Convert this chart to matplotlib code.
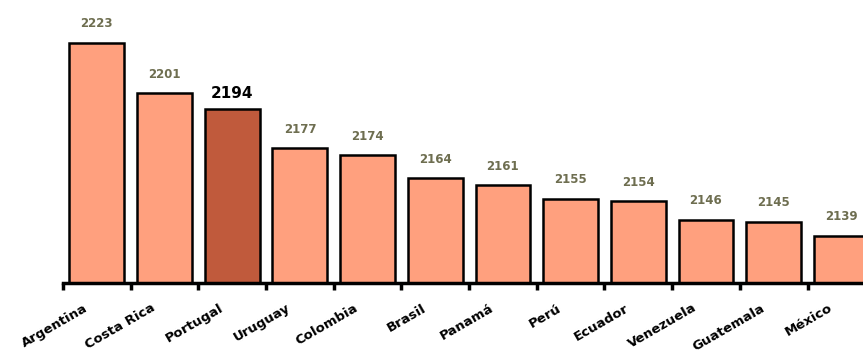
import matplotlib.pyplot as plt
import numpy as np

# data
countries = ['Argentina', 'Costa Rica', 'Portugal', 'Uruguay', 'Colombia', 'Brasil',
             'Panamá', 'Perú', 'Ecuador', 'Venezuela', 'Guatemala', 'México']
values = [2223, 2201, 2194, 2177, 2174, 2164, 2161, 2155, 2154, 2146, 2145, 2139]
highlight = 'Portugal'

fig = plt.figure(figsize=(8.63, 3.52), dpi=100)
ax = fig.add_axes([63 / 863, 69 / 352, 800 / 863, 283 / 352])

x = np.arange(len(countries))
colors = ['#c05a3c' if c == highlight else '#ffa07e' for c in countries]
ax.bar(x, values, width=0.81, color=colors, edgecolor='black', linewidth=1.8, zorder=2)

for xi, v, c in zip(x, values, countries):
    if c == highlight:
        ax.text(xi, v + 3.5, str(v), ha='center', va='bottom', fontsize=11,
                fontweight='bold', color='black')
    else:
        ax.text(xi, v + 5.5, str(v), ha='center', va='bottom', fontsize=8.5,
                fontweight='bold', color='#6e6e50')

# axes styling: only a thick baseline with ticks between bars
for s in ['left', 'right', 'top']:
    ax.spines[s].set_visible(False)
ax.spines['bottom'].set_linewidth(2.5)
ax.set_yticks([])
ax.set_xticks(np.arange(len(countries) + 1) - 0.5)
ax.set_xticklabels([])
ax.tick_params(axis='x', length=5, width=2.5, direction='out')

ymin = 2118.5
ax.set_ylim(ymin, 2241.5)
ax.set_xlim(-0.5, 11.32)

for xi, c in zip(x, countries):
    ax.text(xi - 0.2, ymin - 8, c, rotation=30, ha='right', va='top',
            rotation_mode='anchor', fontsize=9.5, fontweight='bold', color='black')

fig.savefig('out.png', dpi=100)
